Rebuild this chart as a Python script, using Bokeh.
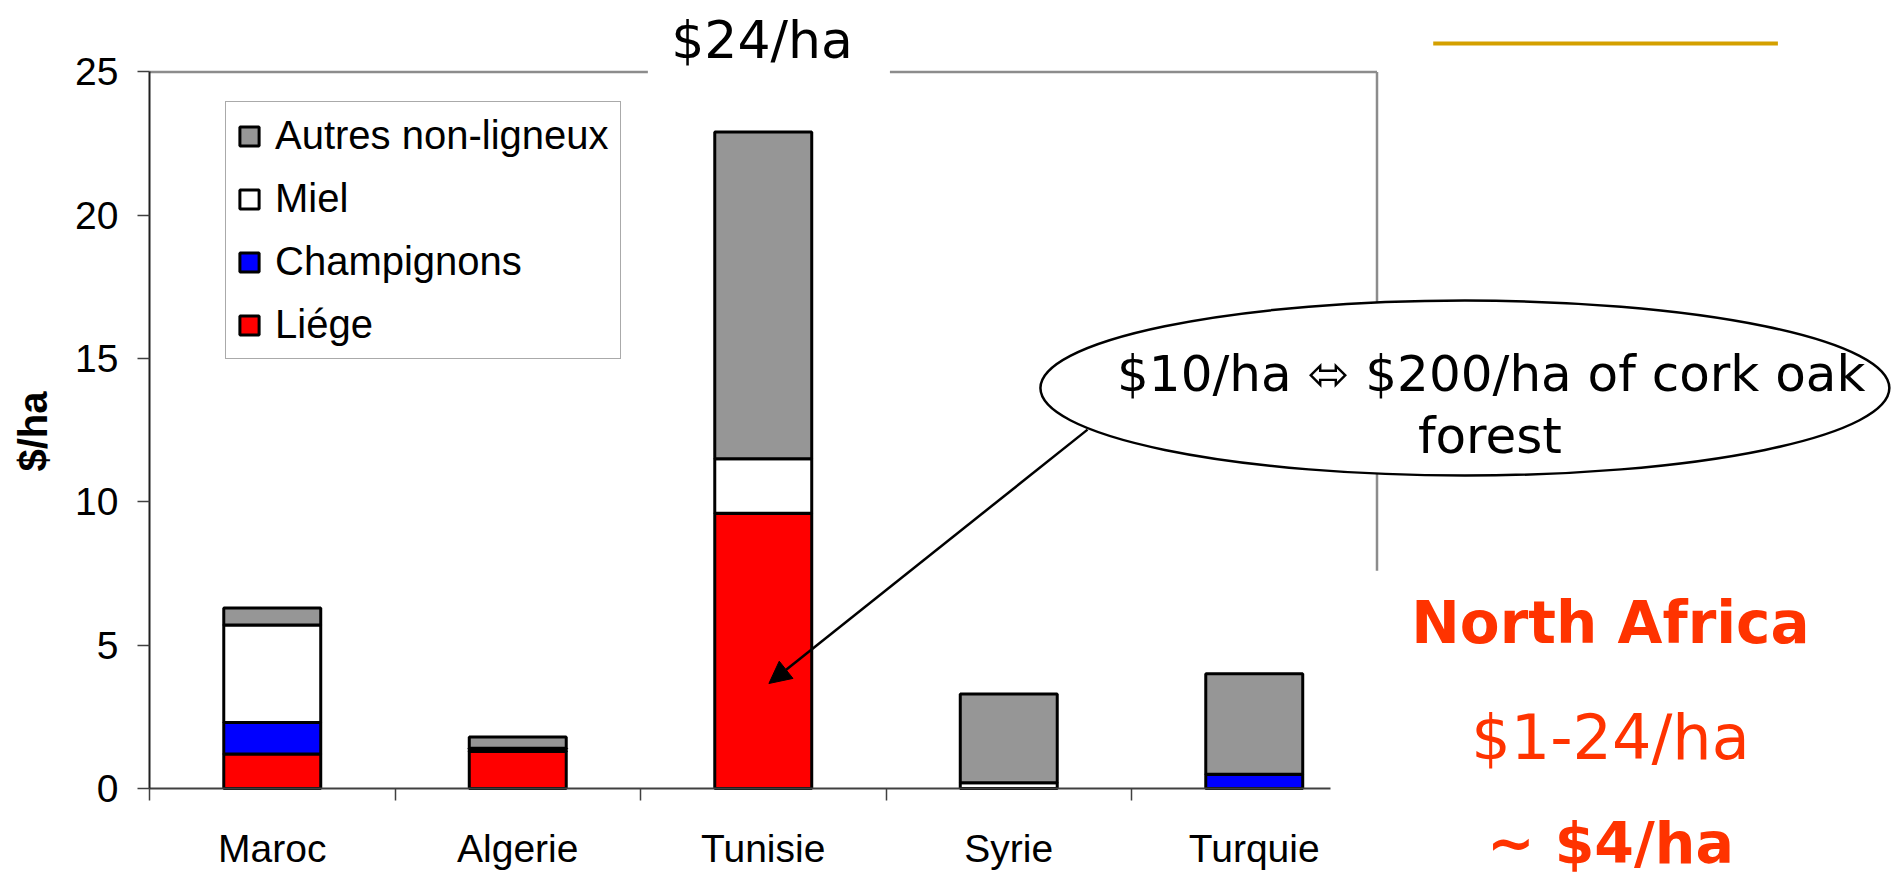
import math

from bokeh.plotting import figure
from bokeh.models import (Range1d, FixedTicker, Legend, LegendItem, Label,
                          Arrow, NormalHead, ColumnDataSource)
from bokeh.embed import file_html
from bokeh.resources import INLINE

# --- data -----------------------------------------------------------------
categories = ["Maroc", "Algerie", "Tunisie", "Syrie", "Turquie"]
liege = [1.2, 1.3, 9.6, 0.0, 0.0]
champignons = [1.1, 0.0, 0.0, 0.0, 0.5]
miel = [3.4, 0.1, 1.9, 0.2, 0.0]
autres = [0.6, 0.4, 11.4, 3.1, 3.5]

series_keys = ["liege", "champignons", "miel", "autres"]
series_labels = ["Liége", "Champignons", "Miel", "Autres non-ligneux"]
series_colors = ["#FF0000", "#0000FF", "#FFFFFF", "#969696"]

y_ticks = [0, 5, 10, 15, 20, 25]

# --- canvas geometry --------------------------------------------------------
# The frame fills the whole canvas; both axes are pinned at the data origin.
W, H = 1892, 880
ORIGIN_X, ORIGIN_Y = 149, 788        # pixel position of (0, 0)
PX_PER_CAT, PX_PER_UNIT = 245.5, 28.664

x_range = Range1d(-ORIGIN_X / PX_PER_CAT, (W - ORIGIN_X) / PX_PER_CAT)
y_range = Range1d(-(H - ORIGIN_Y) / PX_PER_UNIT, ORIGIN_Y / PX_PER_UNIT)

centers = [i + 0.5 for i in range(len(categories))]
separators = list(range(len(categories)))

source = ColumnDataSource(dict(x=centers, liege=liege, champignons=champignons,
                               miel=miel, autres=autres))

p = figure(width=W, height=H, output_backend="svg", toolbar_location=None,
           x_range=x_range, y_range=y_range,
           min_border=0, outline_line_color=None,
           background_fill_color="white", border_fill_color="white")
p.grid.visible = False

AX = "#404040"
FONT = "Liberation Sans"
HAND = "DejaVu Sans"

# x axis: category names at centres, tick marks between categories
xa = p.xaxis[0]
xa.fixed_location = 0
xa.ticker = FixedTicker(ticks=centers, minor_ticks=separators)
xa.major_label_overrides = {c: name for c, name in zip(centers, categories)}
xa.bounds = (0, 4.81)
xa.axis_line_color = AX
xa.axis_line_width = 2
xa.major_tick_out = 0
xa.major_tick_in = 0
xa.minor_tick_out = 12
xa.minor_tick_in = 0
xa.minor_tick_line_color = AX
xa.minor_tick_line_width = 1.5
xa.major_label_standoff = 26
xa.major_label_text_font = FONT
xa.major_label_text_font_size = "39px"
xa.major_label_text_color = "black"

ya = p.yaxis[0]
ya.fixed_location = 0
ya.ticker = FixedTicker(ticks=y_ticks)
ya.bounds = (0, 25)
ya.axis_line_color = "#202020"
ya.axis_line_width = 2
ya.major_tick_out = 12
ya.major_tick_in = 0
ya.major_tick_line_color = AX
ya.major_tick_line_width = 1.5
ya.minor_tick_line_color = None
ya.major_label_standoff = 19
ya.major_label_text_font = FONT
ya.major_label_text_font_size = "39px"
ya.major_label_text_color = "black"

# y axis title
p.add_layout(Label(x=-0.4745, y=12.455, text="$/ha", angle=math.pi / 2,
                   text_font=FONT, text_font_size="40px", text_font_style="bold",
                   text_color="black", text_align="center", text_baseline="middle"))

# plot-area border (top and right), interrupted by the title box
BORDER = "#8C8C8C"
p.segment(x0=[0, 3.016, 5], y0=[25, 25, 25], x1=[2.03, 5, 5], y1=[25, 25, 7.6],
          line_color=BORDER, line_width=2.5)

# stacked bars
bars = p.vbar_stack(series_keys, x="x", width=0.395, source=source,
                    fill_color=series_colors, line_color="black", line_width=3)

legend = Legend(
    items=[LegendItem(label=lab, renderers=[r])
           for lab, r in reversed(list(zip(series_labels, bars)))],
    location=(225, 521),
    label_text_font=FONT, label_text_font_size="40px", label_text_color="black",
    glyph_width=24, glyph_height=24, label_standoff=14, label_height=45,
    spacing=18, padding=11, margin=0,
    border_line_color="#555555", border_line_width=1.5,
    background_fill_color="white", background_fill_alpha=1.0,
)
p.add_layout(legend)

# decorative rule, top right
p.segment(x0=[5.229], y0=[25.99], x1=[6.633], y1=[25.99],
          line_color="#D4A000", line_width=4)

# callout ellipse with its pointer
p.ellipse(x=[5.358], y=[13.97], width=[3.458], height=[6.105],
          fill_color="white", line_color="black", line_width=2.5)

p.add_layout(Arrow(x_start=3.821, y_start=12.52, x_end=2.523, y_end=3.663,
                   line_color="black", line_width=2.5,
                   end=NormalHead(size=22, fill_color="black", line_color="black")))

p.add_layout(Label(x=3.941, y=14.478, text="$10/ha ⬄ $200/ha of cork oak",
                   text_font=HAND, text_font_size="50px", text_color="black",
                   text_align="left", text_baseline="alphabetic"))
p.add_layout(Label(x=5.46, y=12.313, text="forest",
                   text_font=HAND, text_font_size="50px", text_color="black",
                   text_align="center", text_baseline="alphabetic"))

p.add_layout(Label(x=2.495, y=26.128, text="$24/ha",
                   text_font=HAND, text_font_size="52px", text_color="black",
                   text_align="center", text_baseline="alphabetic"))

RED = "#FF3300"
p.add_layout(Label(x=5.951, y=5.784, text="North Africa", text_font=HAND,
                   text_font_size="58px", text_font_style="bold", text_color=RED,
                   text_align="center", text_baseline="alphabetic"))
p.add_layout(Label(x=5.951, y=1.779, text="$1-24/ha", text_font=HAND,
                   text_font_size="62px", text_color=RED,
                   text_align="center", text_baseline="alphabetic"))
p.add_layout(Label(x=5.951, y=-1.9, text="~ $4/ha", text_font=HAND,
                   text_font_size="57px", text_font_style="bold", text_color=RED,
                   text_align="center", text_baseline="alphabetic"))

open("out.html", "w").write(file_html(p, INLINE))
